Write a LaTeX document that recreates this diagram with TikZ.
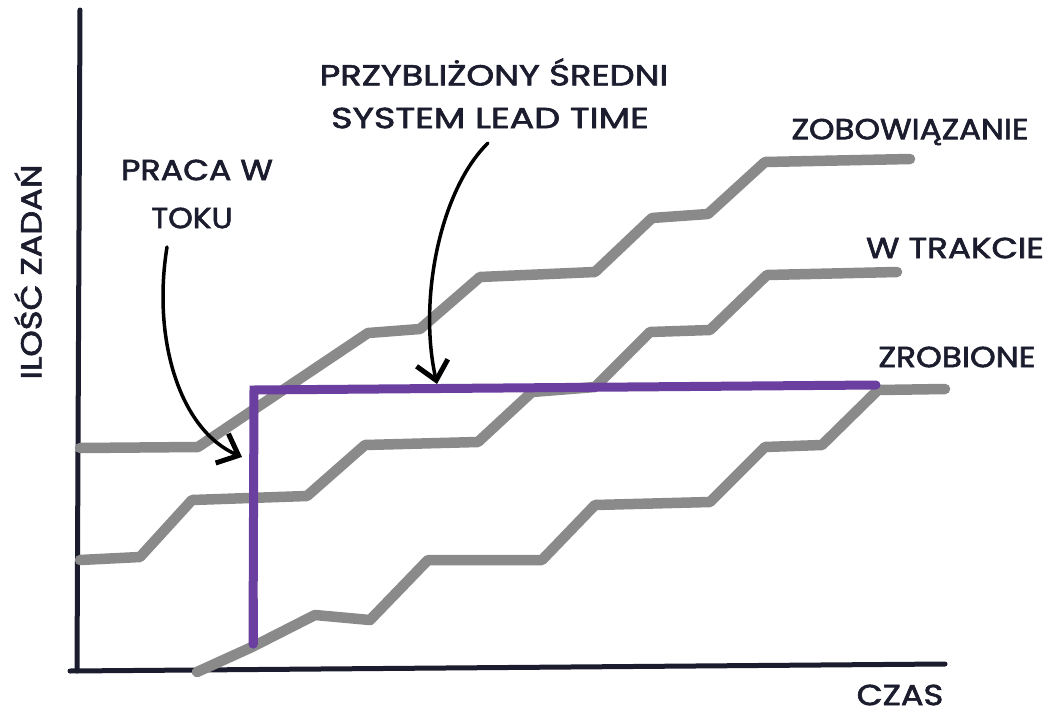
\documentclass[tikz,border=0pt]{standalone}
\usepackage{fontspec}
\setmainfont{Poppins}[FakeBold=2]
\usetikzlibrary{arrows.meta}
\definecolor{ink}{HTML}{1B1D2E}
\definecolor{curvegray}{HTML}{8A8A8A}
\definecolor{leadpurple}{HTML}{6A3FA0}
\begin{document}
\begin{tikzpicture}[x=1pt,y=-1pt,
  lbl/.style={font=\fontsize{29}{34}\selectfont, text=ink, inner sep=0pt},
  axisline/.style={draw=ink, line width=5pt, line cap=round},
  cum/.style={draw=curvegray, line width=10.5pt, line cap=round, line join=round},
  ltime/.style={draw=leadpurple, line width=9pt, line cap=round, line join=miter},
  pointer/.style={draw=black, line width=3.5pt, line cap=round,
    -{Straight Barb[length=18pt,width=32pt,line width=5pt]}}]
\fill[white] (0,0) rectangle (1053,715);
\useasboundingbox (0,0) rectangle (1053,715);

% axes
\coordinate (ytop) at (80,10);
\coordinate (origin) at (77,671);
\coordinate (xleft) at (70,671);
\coordinate (xright) at (945,664);
\draw[axisline] (ytop) -- (origin);
\draw[axisline] (xleft) -- (xright);

% cumulative curves
\draw[cum] (80,448) -- (198,447) -- (368,333) -- (420,329) -- (480,277) -- (595,272)
  -- (652,218) -- (708,214) -- (765,162) -- (910,159);
\draw[cum] (80,560) -- (140,557) -- (192,500) -- (307,496) -- (365,445) -- (478,442)
  -- (532,392) -- (595,387) -- (650,332) -- (710,330) -- (767,275) -- (897,272);
\draw[cum] (197,672) -- (252,647) -- (315,615) -- (370,620) -- (428,560) -- (542,560)
  -- (595,505) -- (710,502) -- (765,447) -- (822,445) -- (878,390) -- (945,389);

% lead time / WIP
\coordinate (wipbottom) at (253,644);
\coordinate (corner) at (254,390);
\coordinate (leadend) at (876,385);
\draw[ltime] (wipbottom) -- (corner) -- (leadend);
\draw[leadpurple, line width=9pt, line cap=round] (253,600) -- (wipbottom);

% labels
\node[lbl, xscale=1.15] (wip1) at (197,170) {PRACA W};
\node[lbl, xscale=1.08] (wip2) at (192,218) {TOKU};
\node[lbl, xscale=1.22] (lt1) at (494,72) {PRZYBLIŻONY ŚREDNI};
\node[lbl, xscale=1.26] (lt2) at (490,118) {SYSTEM LEAD TIME};
\node[lbl, xscale=1.12] (commit) at (910,132) {ZOBOWIĄZANIE};
\node[lbl, xscale=1.18] (inprog) at (955,248) {W TRAKCIE};
\node[lbl, xscale=1.13] (done) at (957,357) {ZROBIONE};
\node[lbl, xscale=1.16] (czas) at (900,695) {CZAS};
\node[lbl, rotate=90, xscale=1.16] (ylab) at (28,272) {ILOŚĆ ZADAŃ};

% pointer arrows
\coordinate (wipstart) at (167,247);
\coordinate (wiptip) at (242,457);
\coordinate (ltstart) at (488,143);
\coordinate (lttip) at (437,384);
\draw[pointer] (wipstart) .. controls (152,340) and (180,430) .. (wiptip);
\draw[pointer] (ltstart) .. controls (440,190) and (418,300) .. (lttip);
\end{tikzpicture}
\end{document}
